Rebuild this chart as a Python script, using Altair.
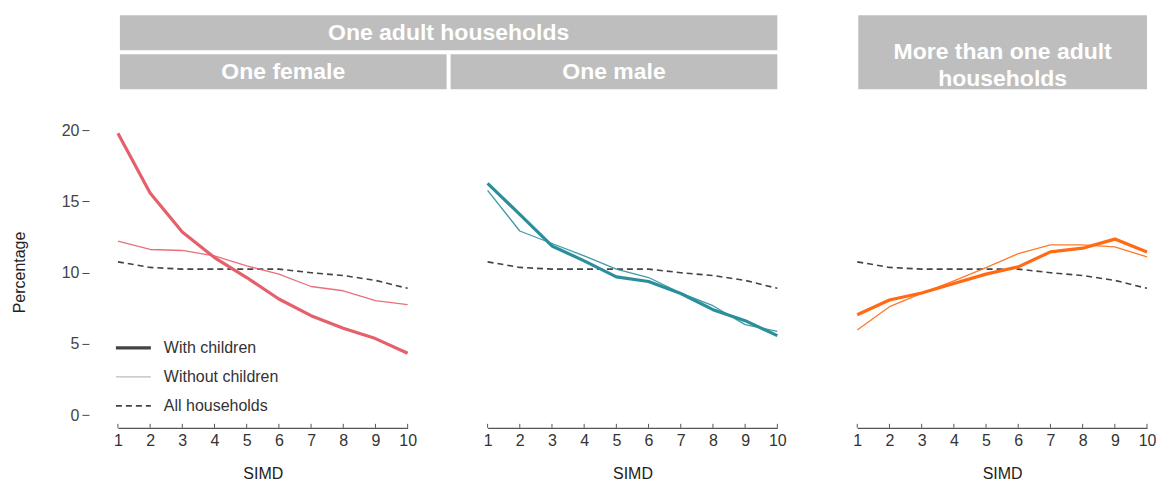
import altair as alt
import pandas as pd

# ---------------- data ----------------
simd = list(range(1, 11))
all_households = [10.76, 10.37, 10.25, 10.25, 10.25, 10.25, 10.0, 9.8, 9.46, 8.9]

female_with = [19.8, 15.6, 12.86, 11.06, 9.66, 8.15, 6.98, 6.09, 5.37, 4.34]
female_without = [12.22, 11.63, 11.56, 11.18, 10.48, 9.9, 9.03, 8.73, 8.03, 7.75]
male_with = [16.27, 14.1, 11.88, 10.83, 9.71, 9.38, 8.54, 7.4, 6.63, 5.58]
male_without = [15.78, 12.93, 12.05, 11.18, 10.25, 9.66, 8.57, 7.68, 6.35, 5.88]
multi_with = [7.05, 8.08, 8.57, 9.24, 9.9, 10.41, 11.46, 11.72, 12.36, 11.46]
multi_without = [5.98, 7.61, 8.54, 9.43, 10.36, 11.34, 11.95, 11.95, 11.81, 11.11]

y_ticks = [0, 5, 10, 15, 20]
legend_labels = ["With children", "Without children", "All households"]
header_top = ["One adult households"]
header_sub = ["One female", "One male"]
header_multi = ["More than one adult\nhouseholds"]

FONT = "Liberation Sans"
W, H = 290, 312
GREY_BOX = "#BEBEBE"


def xenc():
    return alt.X(
        "SIMD:Q",
        scale=alt.Scale(domain=[1, 10], nice=False, zero=False),
        axis=alt.Axis(values=simd, title="SIMD", tickSize=0, ticks=False,
                      domainColor="#555555", domainWidth=1.2,
                      labelFontSize=16, labelColor="#333333", labelPadding=5,
                      labelOverlap=False, labelFlush=False, labelBound=False,
                      titleFontSize=16, titleFontWeight="normal", titleColor="#222222",
                      titlePadding=17, grid=False, labelFont=FONT, titleFont=FONT,
                      format="d"),
    )


def yenc(show_axis):
    axis = None
    if show_axis:
        axis = alt.Axis(values=y_ticks, title="Percentage", domain=False, tickSize=7,
                        tickColor="#444444", labelFontSize=16, labelColor="#444444",
                        labelPadding=3, offset=29, titleFontSize=16,
                        titleFontWeight="normal", titleColor="#222222", titlePadding=34,
                        grid=False, labelFont=FONT, titleFont=FONT)
    return alt.Y("Percentage:Q",
                 scale=alt.Scale(domain=[-0.9, 21], nice=False, zero=False),
                 axis=axis)


def line(values, color, width, dash=None, opacity=1.0, show_axis=False):
    df = pd.DataFrame({"SIMD": simd, "Percentage": values})
    kw = dict(color=color, strokeWidth=width, opacity=opacity, strokeJoin="round")
    if dash is not None:
        kw["strokeDash"] = dash
    return alt.Chart(df).mark_line(**kw).encode(x=xenc(), y=yenc(show_axis))


def tick_rules():
    df = pd.DataFrame({"SIMD": simd})
    return alt.Chart(df).mark_rule(color="#555555", strokeWidth=1).encode(
        x=xenc(), y=alt.value(H - 4), y2=alt.value(H))


def header(label, x0, x1, y0, y1):
    df = pd.DataFrame({"label": [label]})
    box = alt.Chart(df).mark_rect(color=GREY_BOX).encode(
        x=alt.value(x0), x2=alt.value(x1), y=alt.value(y0), y2=alt.value(y1))
    txt = alt.Chart(df).mark_text(
        color="white", fontWeight="bold", fontSize=23, font=FONT, align="center",
        baseline="middle", lineBreak="\n", lineHeight=27).encode(
        x=alt.value((x0 + x1) / 2), y=alt.value((y0 + y1) / 2), text="label:N")
    return [box, txt]


def legend_layers():
    styles = [("#444444", 3.2, None), ("#BBBBBB", 1.2, None), ("#444444", 1.6, [6, 4])]
    rows_y = [232, 261, 290]
    out = []
    for lab, (col, sw, dash), yy in zip(legend_labels, styles, rows_y):
        df = pd.DataFrame({"label": [lab]})
        kw = dict(color=col, strokeWidth=sw)
        if dash is not None:
            kw["strokeDash"] = dash
        out.append(alt.Chart(df).mark_rule(**kw).encode(
            x=alt.value(-2), x2=alt.value(33), y=alt.value(yy)))
        out.append(alt.Chart(df).mark_text(
            align="left", baseline="middle", fontSize=16, font=FONT, color="#333333").encode(
            x=alt.value(46), y=alt.value(yy), text="label:N"))
    return out


def panel(with_vals, without_vals, color, show_axis, extra):
    layers = [
        line(all_households, "#444444", 1.6, dash=[6, 4], show_axis=show_axis),
        line(without_vals, color, 1.3, opacity=0.9, show_axis=show_axis),
        line(with_vals, color, 3.2, show_axis=show_axis),
        tick_rules(),
    ] + extra
    return alt.layer(*layers).properties(width=W, height=H)


p1 = panel(female_with, female_without, "#E5606A", True,
           header(header_top[0], 2, 660, -101, -66)
           + header(header_sub[0], 2, 329, -62, -27)
           + legend_layers())
p2 = panel(male_with, male_without, "#2A8F9B", False,
           header(header_sub[1], -37, 290, -62, -27))
p3 = panel(multi_with, multi_without, "#FF6A13", False,
           header(header_multi[0], 1, 290, -101, -27))

chart = alt.hconcat(p1, p2, p3, spacing=80, bounds="flush").properties(
    padding={"left": 3, "top": 7, "right": 0, "bottom": 0}
).configure(font=FONT).configure_view(stroke=None)

chart.save("out.html", embed_options={"renderer": "svg", "actions": False})
